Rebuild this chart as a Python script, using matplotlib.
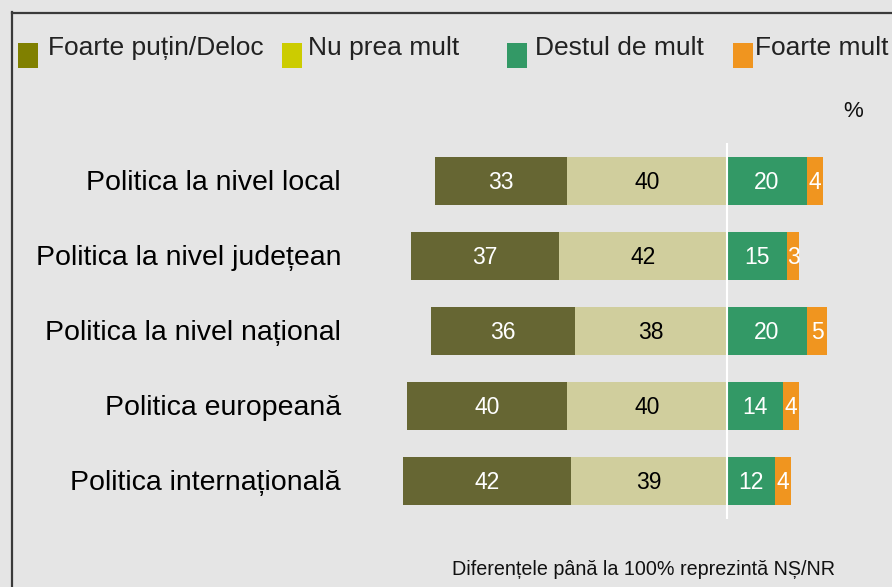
import matplotlib
matplotlib.use("Agg")
import matplotlib.pyplot as plt
from matplotlib.patches import Rectangle
from matplotlib.lines import Line2D
from matplotlib.transforms import ScaledTranslation

plt.rcParams['font.family'] = ['Liberation Sans', 'DejaVu Sans']

categories = ["Politica la nivel local", "Politica la nivel județean",
              "Politica la nivel național", "Politica europeană",
              "Politica internațională"]
foarte_putin = [33, 37, 36, 40, 42]
nu_prea = [40, 42, 38, 40, 39]
destul = [20, 15, 20, 14, 12]
foarte_mult = [4, 3, 5, 4, 4]

legend_labels = ["Foarte puțin/Deloc", "Nu prea mult", "Destul de mult", "Foarte mult"]
legend_colors = ["#808000", "#cccc00", "#339966", "#f0951f"]
bar_colors = ["#666633", "#d0ce9d", "#339966", "#f0951f"]
footnote = "Diferențele până la 100% reprezintă NȘ/NR"

W, H = 892, 587
bg = "#e5e5e5"
fig = plt.figure(figsize=(W / 100, H / 100), dpi=100, facecolor=bg)
ax = fig.add_axes([0, 0, 1, 1])
ax.set_facecolor(bg)
ax.axis('off')

cx, scale = 727, 4.0
ax.set_xlim(-cx / scale, (W - cx) / scale)
y0, step = 181, 75
ax.set_ylim((H - y0) / step, -y0 / step)

ys = list(range(len(categories)))
h = 0.64
ax.barh(ys, [-v for v in nu_prea], height=h, color=bar_colors[1], linewidth=0)
ax.barh(ys, [-v for v in foarte_putin], left=[-v for v in nu_prea], height=h,
        color=bar_colors[0], linewidth=0)
ax.barh(ys, destul, height=h, color=bar_colors[2], linewidth=0)
ax.barh(ys, foarte_mult, left=destul, height=h, color=bar_colors[3], linewidth=0)

# center white line
ax.plot([0, 0], [(143 - y0) / step, (519 - y0) / step], color='white', lw=1.5,
        solid_capstyle='butt', zorder=5)

vfs = 16.5
off_val = ScaledTranslation(0, -5.6 / 72, fig.dpi_scale_trans)
off_cat = ScaledTranslation(0, -6.8 / 72, fig.dpi_scale_trans)
for i in ys:
    fp, nu, de, fm = foarte_putin[i], nu_prea[i], destul[i], foarte_mult[i]
    ax.text(-nu - fp / 2, i, str(fp), ha='center', va='baseline', color='white',
            fontsize=vfs, transform=ax.transData + off_val, zorder=6)
    ax.text(-nu / 2, i, str(nu), ha='center', va='baseline', color='black',
            fontsize=vfs, transform=ax.transData + off_val, zorder=6)
    ax.text(de / 2, i, str(de), ha='center', va='baseline', color='white',
            fontsize=vfs, transform=ax.transData + off_val, zorder=6)
    ax.text(de + fm / 2, i, str(fm), ha='center', va='baseline', color='white',
            fontsize=vfs, transform=ax.transData + off_val, zorder=6)
    ax.text((341 - cx) / scale, i, categories[i], ha='right', va='baseline',
            color='black', fontsize=20.5, transform=ax.transData + off_cat)

# legend
sq_x = [18, 282, 507, 733]
tx_x = [48, 308, 535, 755]
for sx, tx, lab, col in zip(sq_x, tx_x, legend_labels, legend_colors):
    fig.patches.append(Rectangle((sx / W, 1 - 68 / H), 20 / W, 25 / H,
                                 transform=fig.transFigure, color=col, lw=0))
    fig.text(tx / W, 1 - 55 / H, lab, ha='left', va='baseline', fontsize=19,
             color='#222222')

fig.text(853 / W, 1 - 117 / H, "%", ha='center', va='baseline', fontsize=16,
         color='#111111')
fig.text(643.5 / W, 1 - 575 / H, footnote, ha='center', va='baseline', fontsize=14.2,
         color='#111111')

# border
bc = '#3a3a3a'
fig.lines.append(Line2D([12 / W, 12 / W], [0, 1 - 12 / H], transform=fig.transFigure,
                        color=bc, lw=1.6))
fig.lines.append(Line2D([12 / W, 1], [1 - 13 / H, 1 - 13 / H], transform=fig.transFigure,
                        color=bc, lw=1.6))

fig.savefig("out.png", dpi=100, facecolor=bg)
